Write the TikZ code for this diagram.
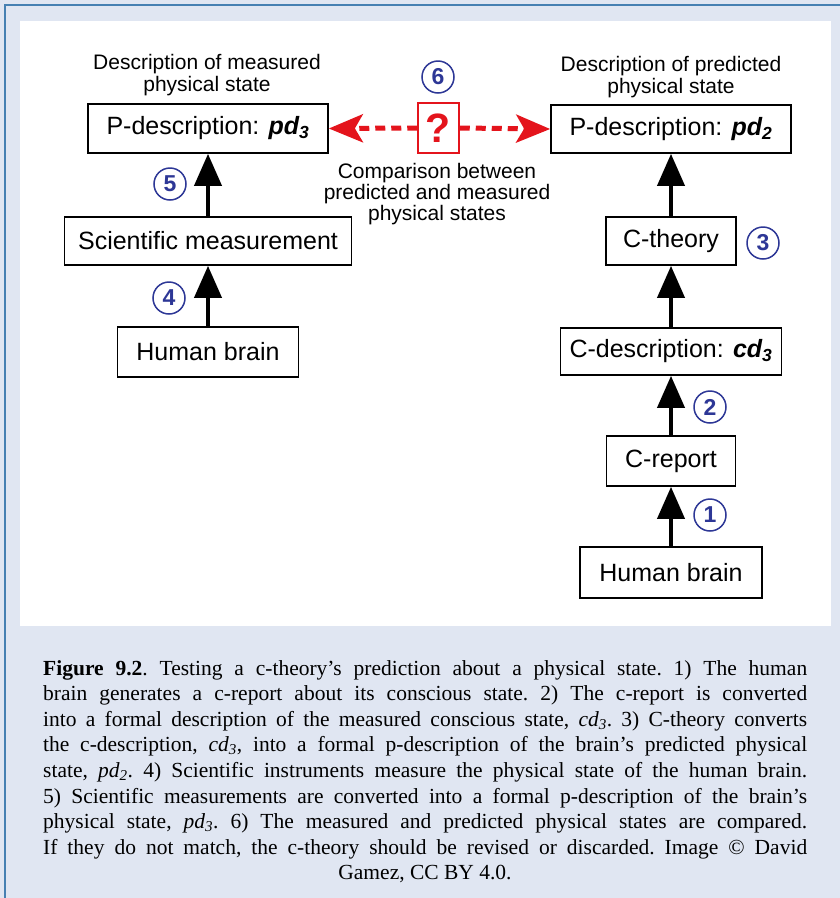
\documentclass[tikz,border=0pt]{standalone}
\usepackage{fontspec}
\setmainfont{Liberation Serif}
\newfontfamily\arialfam{Liberation Sans}
\usetikzlibrary{arrows.meta}
\definecolor{bgblue}{RGB}{224,230,242}
\definecolor{frameblue}{RGB}{70,128,178}
\definecolor{numblue}{RGB}{45,55,150}
\definecolor{qred}{RGB}{228,20,28}
\newcommand\bisub[2]{{\bfseries\itshape #1\textsubscript{#2}}}
\newcommand\itsub[2]{\textit{#1\textsubscript{#2}}}
\newcommand\capjust[1]{\makebox[764pt][s]{#1}}
\begin{document}
\begin{tikzpicture}[x=1pt,y=-1pt,
  box/.style={draw=black, line width=1.7pt, inner sep=0pt, fill=white,
    font=\arialfam\fontsize{25}{30}\selectfont},
  num/.style={circle, draw=numblue, line width=1.5pt, inner sep=0pt,
    minimum size=32pt, text=numblue, font=\arialfam\bfseries\fontsize{23}{23}\selectfont},
  uparrow/.style={line width=4pt, -{Triangle[length=32pt,width=27pt]}},
  cmparrow/.style={draw=qred, line width=5pt, dash pattern=on 10pt off 6pt,
    -{Stealth[length=34pt,width=28pt,inset=8pt]}},
  lbl/.style={align=center, inner sep=0pt, font=\arialfam\fontsize{21}{22}\selectfont},
  capline/.style={anchor=base west, inner sep=0pt, font=\fontsize{21.5}{25.6}\selectfont\frenchspacing}
]
\useasboundingbox (0,0) rectangle (840,898);
% background
\fill[bgblue] (0,0) rectangle (840,898);
\draw[frameblue, line width=2pt] (5,898) -- (5,5) -- (840,5);
\fill[white] (20,21) rectangle (831,626);

% left column
\node[box, minimum width=240pt, minimum height=49pt] (pd3) at (208,128.5)
  {P-description: \bisub{pd}{3}};
\node[box, minimum width=287pt, minimum height=48pt] (sci) at (208,241)
  {Scientific measurement};
\node[box, minimum width=181pt, minimum height=50pt] (hbl) at (208,352)
  {Human brain};

% right column
\node[box, minimum width=240pt, minimum height=48pt] (pd2) at (671,129)
  {P-description: \bisub{pd}{2}};
\node[box, minimum width=130pt, minimum height=48pt] (cth) at (671,241)
  {C-theory};
\node[box, minimum width=221pt, minimum height=47pt] (cdesc) at (671,351.5)
  {C-description: \bisub{cd}{3}};
\node[box, minimum width=129pt, minimum height=50pt] (crep) at (671,461)
  {C-report};
\node[box, minimum width=182pt, minimum height=51pt] (hbr) at (671,572.5)
  {Human brain};

% arrows
\draw[uparrow] (sci.north) -- (pd3.south);
\draw[uparrow] (hbl.north) -- (sci.south);
\draw[uparrow] (cth.north) -- (pd2.south);
\draw[uparrow] (cdesc.north) -- (cth.south);
\draw[uparrow] (crep.north) -- (cdesc.south);
\draw[uparrow] (hbr.north) -- (crep.south);

% comparison
\node[draw=qred, line width=1.5pt, fill=white, minimum width=41pt, minimum height=50pt,
  inner sep=0pt, text=qred, font=\arialfam\bfseries\fontsize{41}{41}\selectfont] (q) at (438.5,128) {?};
\draw[cmparrow] (q.west) -- (pd3.east);
\draw[cmparrow] (q.east) -- (pd2.west);

% labels
\node[lbl] (lm) at (207,75) {Description of measured\\physical state};
\node[lbl] (lp) at (671,77) {Description of predicted\\physical state};
\node[lbl, font=\arialfam\fontsize{21}{21}\selectfont] (cmp) at (437,194)
  {Comparison between\\predicted and measured\\physical states};

% numbers
\node[num] (n6) at (438,77) {6};
\node[num] (n5) at (170,184) {5};
\node[num] (n4) at (169,298) {4};
\node[num] (n3) at (763,243) {3};
\node[num] (n2) at (710,407) {2};
\node[num] (n1) at (710,515) {1};

% caption
\node[capline] (c1) at (43,675) {\capjust{\textbf{Figure 9.2}. Testing a c-theory’s prediction about a physical state. 1) The human}};
\node[capline] (c2) at (43,700.6) {\capjust{brain generates a c-report about its conscious state. 2) The c-report is converted}};
\node[capline] (c3) at (43,726.2) {\capjust{into a formal description of the measured conscious state, \itsub{cd}{3}. 3) C-theory converts}};
\node[capline] (c4) at (43,751.8) {\capjust{the c-description, \itsub{cd}{3}, into a formal p-description of the brain’s predicted physical}};
\node[capline] (c5) at (43,777.4) {\capjust{state, \itsub{pd}{2}. 4) Scientific instruments measure the physical state of the human brain.}};
\node[capline] (c6) at (43,803) {\capjust{5) Scientific measurements are converted into a formal p-description of the brain’s}};
\node[capline] (c7) at (43,828.6) {\capjust{physical state, \itsub{pd}{3}. 6) The measured and predicted physical states are compared.}};
\node[capline] (c8) at (43,854.2) {\capjust{If they do not match, the c-theory should be revised or discarded. Image © David}};
\node[capline, anchor=base] (c9) at (425,879.8) {Gamez, CC BY 4.0.};
\end{tikzpicture}
\end{document}
